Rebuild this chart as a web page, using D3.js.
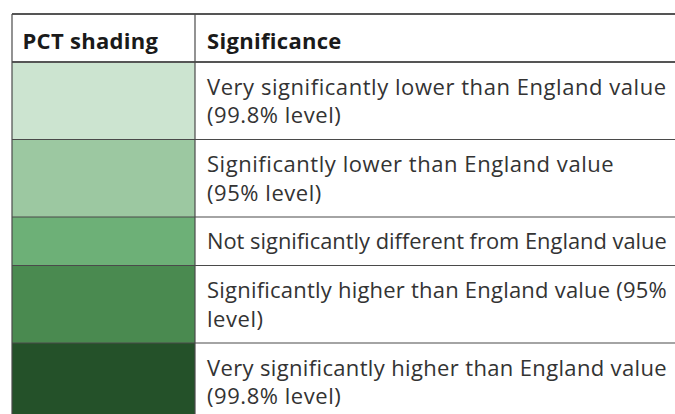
<!DOCTYPE html>
<html>
<head>
<meta charset="utf-8">
<script src="https://cdn.jsdelivr.net/npm/d3@7"></script>
<style>
  html, body { margin: 0; padding: 0; background: #fff; }
  svg { display: block; font-family: "Open Sans", "Noto Sans", sans-serif; }
</style>
</head>
<body>
<div id="chart"></div>
<script>
// table contents
let headers = ["PCT shading", "Significance"];
let shades = ["#cce4d0", "#9cc8a1", "#6db077", "#4a8a50", "#245129"];
let labels = [
    "Very significantly lower than England value\n(99.8% level)",
    "Significantly lower than England value\n(95% level)",
    "Not significantly different from England value",
    "Significantly higher than England value (95%\nlevel)",
    "Very significantly higher than England value\n(99.8% level)"
];

let width = 675,
    height = 414,
    margin = {top: 14, left: 12};

let colX = 195,        // divider between the two columns
    headerH = 48,
    lineH = 28.5,
    maxText = 460;     // room left in the second column

let svg = d3.select("#chart")
    .append("svg")
    .attr("width", width)
    .attr("height", height);

// rows: height depends on number of text lines
let rows = labels.map(function (d, i) {
    let lines = d.split("\n");
    return {label: d, lines: lines, color: shades[i], h: 19.5 + lines.length * 29};
});
let acc = margin.top + headerH;
rows.forEach(function (r) { r.y = acc; acc += r.h; });

let x = d3.scaleLinear().domain([0, 1]).range([margin.left, colX]);

// shaded cells
svg.selectAll("rect.shade")
    .data(rows)
    .enter()
    .append("rect")
    .attr("class", "shade")
    .attr("x", x(0))
    .attr("y", d => d.y)
    .attr("width", x(1) - x(0))
    .attr("height", d => d.h)
    .attr("fill", d => d.color);

// header text
svg.selectAll("text.head")
    .data(headers)
    .enter()
    .append("text")
    .attr("class", "head")
    .attr("x", (d, i) => i === 0 ? margin.left + 10.5 : colX + 12)
    .attr("y", margin.top + 35)
    .attr("font-size", 22)
    .attr("letter-spacing", 0.3)
    .attr("font-weight", "bold")
    .attr("fill", "#1a1a1a")
    .text(d => d);

// significance text, one text element per line
let lineData = [];
rows.forEach(function (d) {
    let n = d.lines.length;
    let first = d.y + d.h / 2 - (n - 1) * lineH / 2 + 8;
    d.lines.forEach((l, j) => lineData.push({t: l, y: first + j * lineH}));
});

svg.selectAll("text.lab")
    .data(lineData)
    .enter()
    .append("text")
    .attr("class", "lab")
    .attr("x", colX + 12)
    .attr("y", d => d.y)
    .attr("font-size", 22)
    .attr("letter-spacing", 0.55)
    .attr("fill", "#333")
    .text(d => d.t)
    .each(function (d) {
        // tighten the long lines so they stay inside the table
        let w = this.getComputedTextLength();
        if (w > maxText) {
            let ls = 0.55 - (w - maxText) / d.t.length;
            let sel = d3.select(this).attr("letter-spacing", Math.max(ls, 0));
            if (ls < 0) sel.attr("font-size", 22 * maxText / (w - 0.55 * d.t.length));
        }
    });

// grid lines
let lineColor = "#4a4a4a";
let hLines = [margin.top + headerH].concat(rows.map(r => r.y + r.h));
svg.selectAll("line.h")
    .data(hLines)
    .enter()
    .append("line")
    .attr("x1", margin.left)
    .attr("x2", width)
    .attr("y1", d => d)
    .attr("y2", d => d)
    .attr("stroke", (d, i) => i === 0 ? "#555" : lineColor)
    .attr("stroke-width", (d, i) => i === 0 ? 1.8 : 1.2);

svg.append("line")
    .attr("x1", margin.left).attr("x2", width)
    .attr("y1", margin.top).attr("y2", margin.top)
    .attr("stroke", "#555").attr("stroke-width", 1.8);

svg.selectAll("line.v")
    .data([margin.left, colX])
    .enter()
    .append("line")
    .attr("x1", d => d).attr("x2", d => d)
    .attr("y1", margin.top).attr("y2", height)
    .attr("stroke", lineColor)
    .attr("stroke-width", 1.2);
</script>
</body>
</html>
